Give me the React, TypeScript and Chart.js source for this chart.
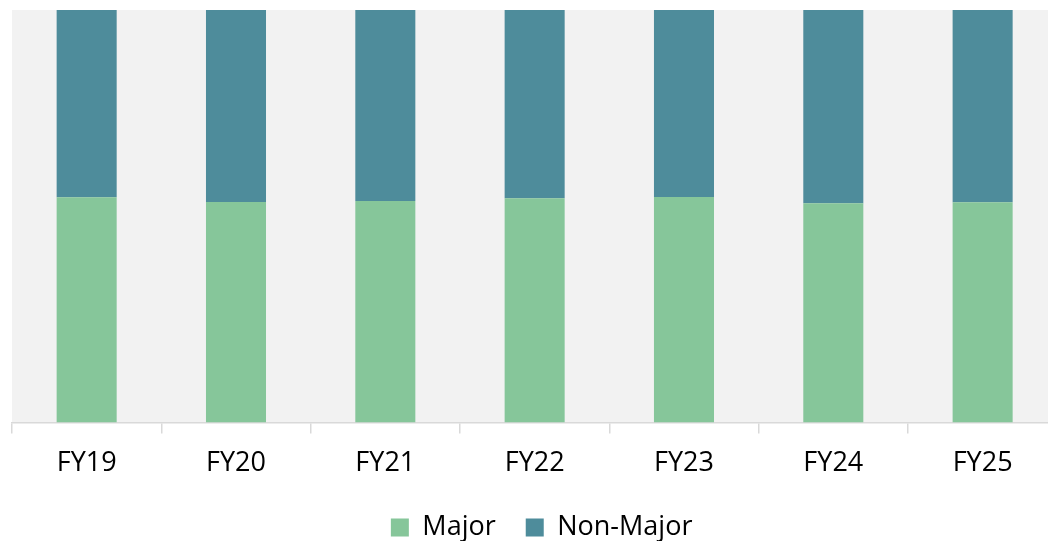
import React, { useEffect, useRef } from "react";
import { Chart, registerables } from "chart.js";

Chart.register(...registerables);

const categories = ["FY19", "FY20", "FY21", "FY22", "FY23", "FY24", "FY25"];
const majorValues = [54.6, 53.45, 53.7, 54.35, 54.65, 53.15, 53.4];
const nonMajorValues = [45.4, 46.55, 46.3, 45.65, 45.35, 46.85, 46.6];
const seriesNames = ["Major", "Non-Major"];

const plotBg = {
  id: "plotBg",
  beforeDraw(chart: any) {
    const { ctx, chartArea } = chart;
    if (!chartArea) return;
    ctx.save();
    ctx.fillStyle = "#F2F2F2";
    ctx.fillRect(chartArea.left, chartArea.top, chartArea.right - chartArea.left, chartArea.bottom - chartArea.top);
    ctx.restore();
  },
};

const legendShift = {
  id: "legendShift",
  afterLayout(chart: any) {
    const lg = chart.legend;
    if (lg) {
      lg.left += 7;
      lg.right += 7;
    }
  },
};

export default function App() {
  const ref = useRef<HTMLCanvasElement | null>(null);

  useEffect(() => {
    if (!ref.current) return;
    const chart = new Chart(ref.current, {
      type: "bar",
      data: {
        labels: categories,
        datasets: [
          { label: seriesNames[0], data: majorValues, backgroundColor: "#86C69A", borderWidth: 0 },
          { label: seriesNames[1], data: nonMajorValues, backgroundColor: "#4E8C9B", borderWidth: 0 },
        ],
      },
      options: {
        animation: false,
        responsive: false,
        devicePixelRatio: 1,
        layout: { padding: { left: 12, right: 2.7, top: 10, bottom: 0 } },
        datasets: { bar: { categoryPercentage: 1, barPercentage: 0.402 } },
        scales: {
          x: {
            stacked: true,
            grid: { display: true, drawOnChartArea: false, drawTicks: true, tickLength: 11, color: "#D9D9D9", lineWidth: 1.5, offset: true },
            border: { display: true, color: "#D9D9D9", width: 1.5 },
            ticks: { color: "#000", padding: 13.3, font: { family: "'Open Sans'", size: 27 }, maxRotation: 0, autoSkip: false },
            afterFit: (scale: any) => { scale.height = 61.5; },
          },
          y: { stacked: true, display: false, min: 0, max: 100 },
        },
        plugins: {
          legend: {
            display: true,
            position: "bottom",
            labels: { color: "#000", boxWidth: 18, boxHeight: 18, padding: 30, font: { family: "'Open Sans'", size: 27 } },
          },
          tooltip: { enabled: false },
        },
      },
      plugins: [plotBg, legendShift],
    });
    return () => chart.destroy();
  }, []);

  return (
    <div style={{ position: "fixed", left: 0, top: 0, width: 1048, height: 541, overflow: "hidden", background: "#fff" }}>
      <canvas ref={ref} width={1060} height={551} style={{ display: "block", width: 1060, height: 551 }} />
    </div>
  );
}
